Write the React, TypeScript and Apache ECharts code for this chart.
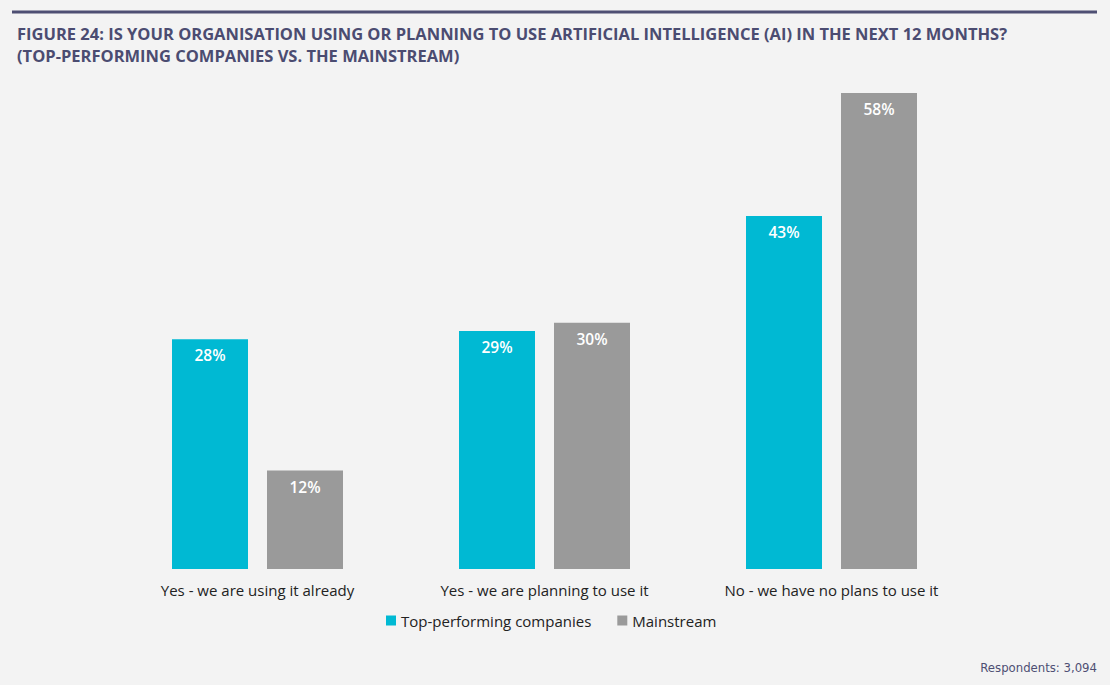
import React, { useEffect, useRef } from "react";
import * as echarts from "echarts";

const categories = [
  "Yes - we are using it already",
  "Yes - we are planning to use it",
  "No - we have no plans to use it",
];
const topPerforming = [28, 29, 43];
const mainstream = [12, 30, 58];
const seriesNames = ["Top-performing companies", "Mainstream"];
const titleLines = [
  "FIGURE 24: IS YOUR ORGANISATION USING OR PLANNING TO USE ARTIFICIAL INTELLIGENCE (AI) IN THE NEXT 12 MONTHS?",
  "(TOP-PERFORMING COMPANIES VS. THE MAINSTREAM)",
];
const footnote = "Respondents: 3,094";

export default function App() {
  const ref = useRef<HTMLDivElement>(null);
  useEffect(() => {
    if (!ref.current) return;
    const chart = echarts.init(ref.current, undefined, { renderer: "svg" });
    const font = "'Open Sans', 'Noto Sans', sans-serif";
    const labelStyle = {
      show: true,
      position: "insideTop",
      distance: 8,
      color: "#ffffff",
      fontSize: 15.5,
      fontWeight: 600,
      fontFamily: font,
      formatter: "{c}%",
    };
    chart.setOption({
      animation: false,
      backgroundColor: "#f3f3f3",
      title: {
        text: titleLines.join("\n"),
        left: 12,
        top: 17,
        textStyle: {
          color: "#4b4c71",
          fontSize: 16.5,
          fontWeight: 700,
          fontFamily: font,
          lineHeight: 22,
        },
      },
      graphic: [
        {
          type: "line",
          shape: { x1: 12, y1: 12, x2: 1097, y2: 12 },
          style: { stroke: "#4e4f73", lineWidth: 3 },
        },
        {
          type: "text",
          right: 13,
          top: 661,
          style: {
            text: footnote,
            fill: "#4e4f73",
            fontSize: 13,
            fontFamily: "'DejaVu Sans Condensed', 'Liberation Sans Narrow', sans-serif",
          },
        },
      ],
      legend: {
        data: seriesNames,
        top: 608,
        left: 381,
        itemWidth: 10,
        itemHeight: 10,
        itemGap: 26,
        icon: "rect",
        textStyle: { color: "#222222", fontSize: 15, fontFamily: font },
      },
      grid: { left: 114, right: 135, top: 76.5, bottom: 116, containLabel: false },
      xAxis: {
        type: "category",
        data: categories,
        axisLine: { show: false },
        axisTick: { show: false },
        axisLabel: {
          color: "#222222",
          fontSize: 15,
          fontFamily: font,
          margin: 13,
        },
      },
      yAxis: {
        type: "value",
        min: 0,
        max: 60,
        show: false,
        splitLine: { show: false },
      },
      series: [
        {
          name: seriesNames[0],
          type: "bar",
          data: topPerforming,
          barWidth: 76,
          barGap: "25%",
          itemStyle: { color: "#00b9d3" },
          label: labelStyle,
        },
        {
          name: seriesNames[1],
          type: "bar",
          data: mainstream,
          barWidth: 76,
          barGap: "25%",
          itemStyle: { color: "#9a9a9a" },
          label: labelStyle,
        },
      ],
    });
    return () => chart.dispose();
  }, []);
  return (
    <div
      ref={ref}
      style={{ position: "fixed", left: 0, top: 0, width: 1110, height: 685 }}
    />
  );
}
